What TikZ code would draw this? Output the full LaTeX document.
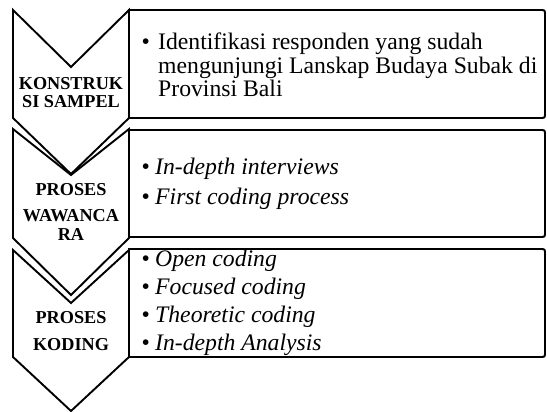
\documentclass[tikz,border=0pt]{standalone}
\usepackage{fontspec}
\usepackage{array}
\setmainfont{Liberation Serif}

% chevron: top corners, notch tip, bottom corners, bottom tip
\newcommand\chevshape[4]{%
  \draw[chev] (13,#1) -- (71,#2) -- (129,#1) -- (129,#3) -- (71,#4) -- (13,#3) -- cycle;}
% panel with rounded right-hand corners
\newcommand\panelshape[2]{%
  \draw[panel] (129,#1) -- (540,#1) .. controls (545,#1) .. (545,#1+5)
    -- (545,#2-5) .. controls (545,#2) .. (540,#2) -- (129,#2) -- cycle;}

\begin{document}
\begin{tikzpicture}[x=1pt,y=-1pt]
\tikzset{
  chev/.style={draw=black, fill=white, line width=1.9pt},
  panel/.style={draw=black, fill=white, line width=1.9pt},
  lab/.style={anchor=base, inner sep=0pt, font=\fontsize{18.2}{18}\selectfont\bfseries},
  itemtext/.style={anchor=base west, inner sep=0pt},
}
\useasboundingbox (0,0) rectangle (547,412);

% step 1
\chevshape{10}{67}{118}{174}
\panelshape{10}{118}
% step 2
\chevshape{129}{175}{238}{295}
\panelshape{130}{237}
% step 3
\chevshape{250}{303}{357}{411}
\panelshape{249}{357}

% step labels
\node[lab] (k1) at (71,90) {\begin{tabular}[t]{@{}c@{}}KONSTRUK\\SI SAMPEL\end{tabular}};
\node[lab] (k2) at (71,195) {\begin{tabular}[t]{@{}c@{}}PROSES\\[9pt]WAWANCA\\RA\end{tabular}};
\node[lab] (k3) at (71,323) {\begin{tabular}[t]{@{}c@{}}PROSES\\[9pt]KODING\end{tabular}};

% bullet lists
\node[itemtext, font=\fontsize{23.7}{23.7}\selectfont] (t1) at (141.5,49.5)
  {\begin{tabular}[t]{@{}l@{}l@{}}
   \makebox[16.5pt][l]{•}&Identifikasi responden yang sudah\\
   &mengunjungi Lanskap Budaya Subak di\\
   &Provinsi Bali
   \end{tabular}};
\node[itemtext, font=\fontsize{23.7}{23.7}\selectfont] (t2) at (141.5,175)
  {\begin{tabular}[t]{@{}l@{}>{\itshape}l@{}}
   \makebox[13.5pt][l]{•}&In-depth interviews\\[6.3pt]
   \makebox[13.5pt][l]{•}&First coding process
   \end{tabular}};
\node[itemtext, font=\fontsize{23.7}{28.3}\selectfont] (t3) at (141.5,266)
  {\begin{tabular}[t]{@{}l@{}>{\itshape}l@{}}
   \makebox[13.5pt][l]{•}&Open coding\\
   \makebox[13.5pt][l]{•}&Focused coding\\
   \makebox[13.5pt][l]{•}&Theoretic coding\\
   \makebox[13.5pt][l]{•}&In-depth Analysis
   \end{tabular}};
\end{tikzpicture}
\end{document}
